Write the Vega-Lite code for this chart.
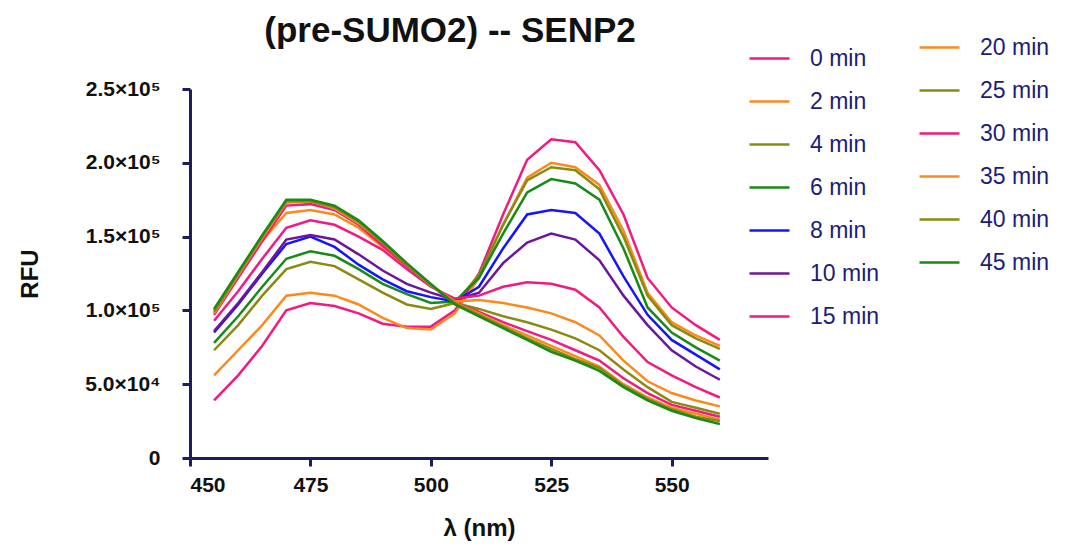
{
 "$schema": "https://vega.github.io/schema/vega-lite/v6.json",
 "width": 578, "height": 369,
 "autosize": "none",
 "padding": {"left": 190, "top": 89, "right": 317, "bottom": 90},
 "background": "white",
 "config": {"view": {"stroke": null}, "font": "Liberation Sans"},
 "title": {"text": "(pre-SUMO2) -- SENP2", "fontSize": 35, "fontWeight": "bold", "font": "Liberation Sans", "color": "#111111", "anchor": "middle", "frame": "group", "dx": -29, "offset": -23},
 "data": {"values": [
  {"s":"0 min","x":455,"y":39000},{"s":"0 min","x":460,"y":56000},{"s":"0 min","x":465,"y":76000},{"s":"0 min","x":470,"y":100000},{"s":"0 min","x":475,"y":105000},{"s":"0 min","x":480,"y":103000},{"s":"0 min","x":485,"y":98000},{"s":"0 min","x":490,"y":91000},{"s":"0 min","x":495,"y":89000},{"s":"0 min","x":500,"y":89000},{"s":"0 min","x":505,"y":100000},{"s":"0 min","x":510,"y":125000},{"s":"0 min","x":515,"y":165000},{"s":"0 min","x":520,"y":202000},{"s":"0 min","x":525,"y":216000},{"s":"0 min","x":530,"y":214000},{"s":"0 min","x":535,"y":195000},{"s":"0 min","x":540,"y":165000},{"s":"0 min","x":545,"y":122000},{"s":"0 min","x":550,"y":102000},{"s":"0 min","x":555,"y":90000},{"s":"0 min","x":560,"y":80000},
  {"s":"2 min","x":455,"y":56000},{"s":"2 min","x":460,"y":73000},{"s":"2 min","x":465,"y":90000},{"s":"2 min","x":470,"y":110000},{"s":"2 min","x":475,"y":112000},{"s":"2 min","x":480,"y":110000},{"s":"2 min","x":485,"y":104000},{"s":"2 min","x":490,"y":95000},{"s":"2 min","x":495,"y":88000},{"s":"2 min","x":500,"y":87000},{"s":"2 min","x":505,"y":98000},{"s":"2 min","x":510,"y":122000},{"s":"2 min","x":515,"y":158000},{"s":"2 min","x":520,"y":190000},{"s":"2 min","x":525,"y":200000},{"s":"2 min","x":530,"y":197000},{"s":"2 min","x":535,"y":185000},{"s":"2 min","x":540,"y":154000},{"s":"2 min","x":545,"y":112000},{"s":"2 min","x":550,"y":92000},{"s":"2 min","x":555,"y":83000},{"s":"2 min","x":560,"y":76000},
  {"s":"4 min","x":455,"y":73000},{"s":"4 min","x":460,"y":90000},{"s":"4 min","x":465,"y":110000},{"s":"4 min","x":470,"y":128000},{"s":"4 min","x":475,"y":133000},{"s":"4 min","x":480,"y":130000},{"s":"4 min","x":485,"y":121000},{"s":"4 min","x":490,"y":112000},{"s":"4 min","x":495,"y":104000},{"s":"4 min","x":500,"y":101000},{"s":"4 min","x":505,"y":105000},{"s":"4 min","x":510,"y":124000},{"s":"4 min","x":515,"y":158000},{"s":"4 min","x":520,"y":188000},{"s":"4 min","x":525,"y":197000},{"s":"4 min","x":530,"y":195000},{"s":"4 min","x":535,"y":182000},{"s":"4 min","x":540,"y":150000},{"s":"4 min","x":545,"y":110000},{"s":"4 min","x":550,"y":90000},{"s":"4 min","x":555,"y":81000},{"s":"4 min","x":560,"y":74000},
  {"s":"6 min","x":455,"y":78000},{"s":"6 min","x":460,"y":96000},{"s":"6 min","x":465,"y":116000},{"s":"6 min","x":470,"y":135000},{"s":"6 min","x":475,"y":140000},{"s":"6 min","x":480,"y":137000},{"s":"6 min","x":485,"y":128000},{"s":"6 min","x":490,"y":118000},{"s":"6 min","x":495,"y":111000},{"s":"6 min","x":500,"y":105000},{"s":"6 min","x":505,"y":106000},{"s":"6 min","x":510,"y":122000},{"s":"6 min","x":515,"y":152000},{"s":"6 min","x":520,"y":180000},{"s":"6 min","x":525,"y":189000},{"s":"6 min","x":530,"y":186000},{"s":"6 min","x":535,"y":175000},{"s":"6 min","x":540,"y":142000},{"s":"6 min","x":545,"y":102000},{"s":"6 min","x":550,"y":85000},{"s":"6 min","x":555,"y":75000},{"s":"6 min","x":560,"y":66000},
  {"s":"8 min","x":455,"y":85000},{"s":"8 min","x":460,"y":104000},{"s":"8 min","x":465,"y":125000},{"s":"8 min","x":470,"y":145000},{"s":"8 min","x":475,"y":150000},{"s":"8 min","x":480,"y":143000},{"s":"8 min","x":485,"y":131000},{"s":"8 min","x":490,"y":121000},{"s":"8 min","x":495,"y":113000},{"s":"8 min","x":500,"y":109000},{"s":"8 min","x":505,"y":106000},{"s":"8 min","x":510,"y":116000},{"s":"8 min","x":515,"y":142000},{"s":"8 min","x":520,"y":165000},{"s":"8 min","x":525,"y":168000},{"s":"8 min","x":530,"y":166000},{"s":"8 min","x":535,"y":152000},{"s":"8 min","x":540,"y":123000},{"s":"8 min","x":545,"y":97000},{"s":"8 min","x":550,"y":80000},{"s":"8 min","x":555,"y":70000},{"s":"8 min","x":560,"y":60000},
  {"s":"10 min","x":455,"y":86000},{"s":"10 min","x":460,"y":105000},{"s":"10 min","x":465,"y":126000},{"s":"10 min","x":470,"y":148000},{"s":"10 min","x":475,"y":151000},{"s":"10 min","x":480,"y":148000},{"s":"10 min","x":485,"y":138000},{"s":"10 min","x":490,"y":127000},{"s":"10 min","x":495,"y":118000},{"s":"10 min","x":500,"y":112000},{"s":"10 min","x":505,"y":107000},{"s":"10 min","x":510,"y":112000},{"s":"10 min","x":515,"y":132000},{"s":"10 min","x":520,"y":146000},{"s":"10 min","x":525,"y":152000},{"s":"10 min","x":530,"y":148000},{"s":"10 min","x":535,"y":134000},{"s":"10 min","x":540,"y":110000},{"s":"10 min","x":545,"y":90000},{"s":"10 min","x":550,"y":73000},{"s":"10 min","x":555,"y":62000},{"s":"10 min","x":560,"y":53000},
  {"s":"15 min","x":455,"y":93000},{"s":"15 min","x":460,"y":113000},{"s":"15 min","x":465,"y":135000},{"s":"15 min","x":470,"y":156000},{"s":"15 min","x":475,"y":161000},{"s":"15 min","x":480,"y":158000},{"s":"15 min","x":485,"y":150000},{"s":"15 min","x":490,"y":141000},{"s":"15 min","x":495,"y":128000},{"s":"15 min","x":500,"y":116000},{"s":"15 min","x":505,"y":108000},{"s":"15 min","x":510,"y":110000},{"s":"15 min","x":515,"y":116000},{"s":"15 min","x":520,"y":119000},{"s":"15 min","x":525,"y":118000},{"s":"15 min","x":530,"y":114000},{"s":"15 min","x":535,"y":102000},{"s":"15 min","x":540,"y":82000},{"s":"15 min","x":545,"y":65000},{"s":"15 min","x":550,"y":56000},{"s":"15 min","x":555,"y":48000},{"s":"15 min","x":560,"y":41000},
  {"s":"20 min","x":455,"y":98000},{"s":"20 min","x":460,"y":123000},{"s":"20 min","x":465,"y":147000},{"s":"20 min","x":470,"y":166000},{"s":"20 min","x":475,"y":168000},{"s":"20 min","x":480,"y":165000},{"s":"20 min","x":485,"y":156000},{"s":"20 min","x":490,"y":143000},{"s":"20 min","x":495,"y":130000},{"s":"20 min","x":500,"y":117000},{"s":"20 min","x":505,"y":106000},{"s":"20 min","x":510,"y":107000},{"s":"20 min","x":515,"y":105000},{"s":"20 min","x":520,"y":102000},{"s":"20 min","x":525,"y":98000},{"s":"20 min","x":530,"y":92000},{"s":"20 min","x":535,"y":83000},{"s":"20 min","x":540,"y":66000},{"s":"20 min","x":545,"y":52000},{"s":"20 min","x":550,"y":44000},{"s":"20 min","x":555,"y":39000},{"s":"20 min","x":560,"y":35000},
  {"s":"25 min","x":455,"y":100000},{"s":"25 min","x":460,"y":125000},{"s":"25 min","x":465,"y":150000},{"s":"25 min","x":470,"y":174000},{"s":"25 min","x":475,"y":174000},{"s":"25 min","x":480,"y":170000},{"s":"25 min","x":485,"y":160000},{"s":"25 min","x":490,"y":146000},{"s":"25 min","x":495,"y":131000},{"s":"25 min","x":500,"y":117000},{"s":"25 min","x":505,"y":105000},{"s":"25 min","x":510,"y":101000},{"s":"25 min","x":515,"y":96000},{"s":"25 min","x":520,"y":92000},{"s":"25 min","x":525,"y":87000},{"s":"25 min","x":530,"y":81000},{"s":"25 min","x":535,"y":73000},{"s":"25 min","x":540,"y":60000},{"s":"25 min","x":545,"y":48000},{"s":"25 min","x":550,"y":38000},{"s":"25 min","x":555,"y":34000},{"s":"25 min","x":560,"y":30000},
  {"s":"30 min","x":455,"y":97000},{"s":"30 min","x":460,"y":122000},{"s":"30 min","x":465,"y":147000},{"s":"30 min","x":470,"y":171000},{"s":"30 min","x":475,"y":172000},{"s":"30 min","x":480,"y":168000},{"s":"30 min","x":485,"y":158000},{"s":"30 min","x":490,"y":144000},{"s":"30 min","x":495,"y":130000},{"s":"30 min","x":500,"y":117000},{"s":"30 min","x":505,"y":105000},{"s":"30 min","x":510,"y":99000},{"s":"30 min","x":515,"y":92000},{"s":"30 min","x":520,"y":86000},{"s":"30 min","x":525,"y":80000},{"s":"30 min","x":530,"y":73000},{"s":"30 min","x":535,"y":66000},{"s":"30 min","x":540,"y":54000},{"s":"30 min","x":545,"y":44000},{"s":"30 min","x":550,"y":36000},{"s":"30 min","x":555,"y":32000},{"s":"30 min","x":560,"y":28000},
  {"s":"35 min","x":455,"y":98000},{"s":"35 min","x":460,"y":124000},{"s":"35 min","x":465,"y":149000},{"s":"35 min","x":470,"y":173000},{"s":"35 min","x":475,"y":174000},{"s":"35 min","x":480,"y":169000},{"s":"35 min","x":485,"y":159000},{"s":"35 min","x":490,"y":146000},{"s":"35 min","x":495,"y":131000},{"s":"35 min","x":500,"y":117000},{"s":"35 min","x":505,"y":105000},{"s":"35 min","x":510,"y":98000},{"s":"35 min","x":515,"y":90000},{"s":"35 min","x":520,"y":83000},{"s":"35 min","x":525,"y":76000},{"s":"35 min","x":530,"y":69000},{"s":"35 min","x":535,"y":62000},{"s":"35 min","x":540,"y":50000},{"s":"35 min","x":545,"y":41000},{"s":"35 min","x":550,"y":34000},{"s":"35 min","x":555,"y":30000},{"s":"35 min","x":560,"y":26000},
  {"s":"40 min","x":455,"y":99000},{"s":"40 min","x":460,"y":125000},{"s":"40 min","x":465,"y":150000},{"s":"40 min","x":470,"y":174000},{"s":"40 min","x":475,"y":174000},{"s":"40 min","x":480,"y":170000},{"s":"40 min","x":485,"y":160000},{"s":"40 min","x":490,"y":146000},{"s":"40 min","x":495,"y":131000},{"s":"40 min","x":500,"y":117000},{"s":"40 min","x":505,"y":105000},{"s":"40 min","x":510,"y":97000},{"s":"40 min","x":515,"y":89000},{"s":"40 min","x":520,"y":81000},{"s":"40 min","x":525,"y":74000},{"s":"40 min","x":530,"y":67000},{"s":"40 min","x":535,"y":61000},{"s":"40 min","x":540,"y":49000},{"s":"40 min","x":545,"y":40000},{"s":"40 min","x":550,"y":33000},{"s":"40 min","x":555,"y":28000},{"s":"40 min","x":560,"y":25000},
  {"s":"45 min","x":455,"y":101000},{"s":"45 min","x":460,"y":126000},{"s":"45 min","x":465,"y":151000},{"s":"45 min","x":470,"y":175000},{"s":"45 min","x":475,"y":175000},{"s":"45 min","x":480,"y":171000},{"s":"45 min","x":485,"y":161000},{"s":"45 min","x":490,"y":147000},{"s":"45 min","x":495,"y":132000},{"s":"45 min","x":500,"y":118000},{"s":"45 min","x":505,"y":104000},{"s":"45 min","x":510,"y":96000},{"s":"45 min","x":515,"y":88000},{"s":"45 min","x":520,"y":80000},{"s":"45 min","x":525,"y":72000},{"s":"45 min","x":530,"y":66000},{"s":"45 min","x":535,"y":59000},{"s":"45 min","x":540,"y":48000},{"s":"45 min","x":545,"y":39000},{"s":"45 min","x":550,"y":32000},{"s":"45 min","x":555,"y":27000},{"s":"45 min","x":560,"y":23000}
 ]},
 "encoding": {
  "x": {"field": "x", "type": "quantitative", "scale": {"domain": [450, 570], "nice": false, "zero": false},
        "axis": {"values": [450, 475, 500, 525, 550], "title": "λ (nm)", "grid": false, "domainColor": "#1e1e5e", "domainWidth": 3, "tickColor": "#1e1e5e", "tickWidth": 3, "tickSize": 8, "labelFont": "Liberation Sans", "labelFontSize": 21, "labelFontWeight": "bold", "labelColor": "#111111", "labelPadding": 8, "titleFont": "Liberation Sans", "titleFontSize": 24, "titleFontWeight": "bold", "titleColor": "#111111", "titlePadding": 21}},
  "y": {"field": "y", "type": "quantitative", "scale": {"domain": [0, 250000], "nice": false},
        "axis": {"values": [0, 50000, 100000, 150000, 200000, 250000], "labelExpr": "datum.value == 0 ? '0' : (datum.value == 50000 ? '5.0×10⁴' : format(datum.value / 100000, '.1f') + '×10⁵')", "title": "RFU", "grid": false, "domainColor": "#1e1e5e", "domainWidth": 3, "tickColor": "#1e1e5e", "tickWidth": 3, "tickSize": 8, "labelFont": "Liberation Sans", "labelFontSize": 21, "labelFontWeight": "bold", "labelColor": "#111111", "labelPadding": 22, "titleFont": "Liberation Sans", "titleFontSize": 24, "titleFontWeight": "bold", "titleColor": "#111111", "titlePadding": 42}}
 },
 "layer": [
  {"transform": [{"filter": {"field": "s", "oneOf": ["0 min", "2 min", "4 min", "6 min", "8 min", "10 min", "15 min"]}}],
   "mark": {"type": "line", "strokeWidth": 2.5},
   "encoding": {"color": {"field": "s", "type": "nominal",
     "scale": {"domain": ["0 min", "2 min", "4 min", "6 min", "8 min", "10 min", "15 min"], "range": ["#f2197f", "#fb8a1c", "#8a8a10", "#178a17", "#1414ff", "#6c169e", "#f2197f"]},
     "legend": {"title": null, "orient": "none", "legendX": 558, "legendY": -52, "symbolType": "stroke", "symbolSize": 1600, "symbolStrokeWidth": 2.5, "labelFont": "Liberation Sans", "labelFontSize": 23, "labelColor": "#1c1c78", "labelOffset": 19, "rowPadding": 9}}}},
  {"transform": [{"filter": {"field": "s", "oneOf": ["20 min", "25 min", "30 min", "35 min", "40 min", "45 min"]}}],
   "mark": {"type": "line", "strokeWidth": 2.5},
   "encoding": {"color": {"field": "s", "type": "nominal",
     "scale": {"domain": ["20 min", "25 min", "30 min", "35 min", "40 min", "45 min"], "range": ["#fb8a1c", "#8a8a10", "#f2197f", "#fb8a1c", "#8a8a10", "#178a17"]},
     "legend": {"title": null, "orient": "none", "legendX": 728, "legendY": -63, "symbolType": "stroke", "symbolSize": 1600, "symbolStrokeWidth": 2.5, "labelFont": "Liberation Sans", "labelFontSize": 23, "labelColor": "#1c1c78", "labelOffset": 19, "rowPadding": 9}}}}
 ],
 "resolve": {"scale": {"color": "independent"}}
}
